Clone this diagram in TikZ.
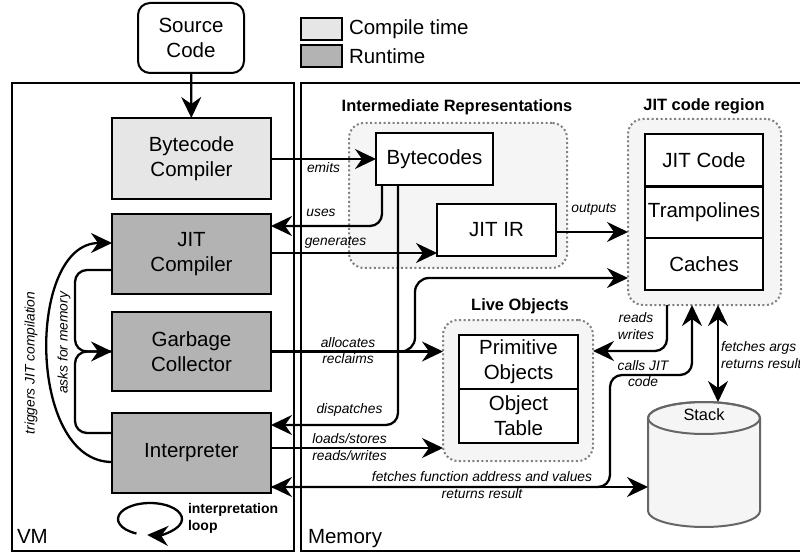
\documentclass[tikz,border=0pt]{standalone}
\usepackage{fontspec}
\setmainfont{Liberation Sans}
\usetikzlibrary{arrows.meta}
\definecolor{lightfill}{HTML}{E6E6E6}
\definecolor{darkfill}{HTML}{B3B3B3}
\definecolor{groupfill}{HTML}{F5F5F5}
\definecolor{dotgray}{HTML}{808080}
\definecolor{stackgray}{HTML}{666666}
\begin{document}
\begin{tikzpicture}[x=1pt,y=-1pt,
  every node/.style={inner sep=0pt, outer sep=0pt},
  boxfont/.style={font=\fontsize{20.5}{25}\selectfont},
  vbox/.style={draw, line width=2pt, align=center, boxfont},
  group/.style={draw=dotgray, fill=groupfill, line width=2pt, dash pattern=on 2pt off 2.5pt, rounded corners=15pt},
  gtitle/.style={font=\fontsize{16.4}{19}\selectfont\bfseries},
  elabel/.style={font=\fontsize{13.8}{16.5}\selectfont\itshape, align=center},
  frm/.style={draw, line width=2pt},
  tip/.tip={Stealth[length=21pt, width=20pt, inset=7pt]},
  arr/.style={line width=2.3pt, -tip},
  darr/.style={line width=2.3pt, tip-tip},
  ln/.style={line width=2.3pt},
]
\useasboundingbox (0,0) rectangle (800,553);

% frames
\node[frm, minimum width=282pt, minimum height=468pt] (vm) at (153,317) {};
\node[frm, minimum width=509pt, minimum height=468pt] (mem) at (555.5,317) {};
\node[anchor=base west, boxfont] (vmlbl) at (17,543) {VM};
\node[anchor=base west, boxfont] (memlbl) at (308,543) {Memory};

% legend
\node[draw, line width=2pt, fill=lightfill, minimum width=41pt, minimum height=22pt] (legc) at (321.5,29) {};
\node[draw, line width=2pt, fill=darkfill, minimum width=41pt, minimum height=22pt] (legr) at (321.5,56) {};
\node[anchor=west, boxfont] (legct) at (349,29) {Compile time};
\node[anchor=west, boxfont] (legrt) at (349,56) {Runtime};

% groups
\node[group, minimum width=218pt, minimum height=145pt] (irg) at (458,195.5) {};
\node[group, minimum width=153pt, minimum height=186pt] (jitreg) at (704.5,212) {};
\node[group, minimum width=150pt, minimum height=141pt] (live) at (518,390.5) {};
\node[gtitle] (irgt) at (457,107) {Intermediate Representations};
\node[gtitle] (jitregt) at (704,106) {JIT code region};
\node[gtitle] (livet) at (520,306) {Live Objects};

% stack placeholder
\node[minimum width=112pt, minimum height=125pt] (stack) at (704,464.5) {};

% waypoints
\coordinate (usesx) at (382,226);
\coordinate (dispx) at (398,425);
\coordinate (geny) at (0,253);
\coordinate (outy) at (0,232);
\coordinate (gcup) at (415,278);
\coordinate (lsy) at (0,448);
\coordinate (fy) at (0,487);
\coordinate (callx) at (610,375);
\coordinate (cally) at (692,375);
\coordinate (rwx) at (667,351);
\coordinate (faxx) at (718,0);
\coordinate (askx) at (75,351.5);
\coordinate (loopc) at (150,519);

% boxes
\node[vbox, fill=white, rounded corners=12pt, minimum width=106pt, minimum height=70pt] (src) at (191,38) {Source\\Code};
\node[vbox, fill=lightfill, minimum width=159pt, minimum height=81pt] (bcc) at (191.5,158.5) {Bytecode\\Compiler};
\node[vbox, fill=darkfill, minimum width=159pt, minimum height=80pt] (jitc) at (191.5,254) {JIT\\Compiler};
\node[vbox, fill=darkfill, minimum width=159pt, minimum height=79pt] (gc) at (191.5,351.5) {Garbage\\Collector};
\node[vbox, fill=darkfill, minimum width=159pt, minimum height=80pt] (interp) at (191.5,453) {Interpreter};

\node[vbox, fill=white, minimum width=117pt, minimum height=52pt] (bc) at (434.5,159) {Bytecodes};
\node[vbox, fill=white, minimum width=119pt, minimum height=52pt] (jitir) at (496.5,230) {JIT IR};

\node[vbox, fill=white, minimum width=118pt, minimum height=52pt] (jitcode) at (704,160.5) {JIT Code};
\node[vbox, fill=white, minimum width=118pt, minimum height=51pt] (tramp) at (704,212.5) {Trampolines};
\node[vbox, fill=white, minimum width=118pt, minimum height=52pt] (caches) at (704,264) {Caches};

\node[vbox, fill=white, minimum width=119pt, minimum height=54pt] (prim) at (518.5,362) {Primitive\\Objects};
\node[vbox, fill=white, minimum width=119pt, minimum height=54pt] (objtab) at (518.5,416) {Object\\Table};

% stack cylinder
\filldraw[fill=groupfill, draw=stackgray, line width=2pt]
  (648,418) -- (648,511) arc[start angle=180, end angle=360, x radius=56pt, y radius=16pt]
  -- (760,418) arc[start angle=0, end angle=180, x radius=56pt, y radius=16pt] -- cycle;
\draw[draw=stackgray, line width=2pt] (704,418) ellipse[x radius=56pt, y radius=16pt];
\node[font=\fontsize{16.4}{19}\selectfont] (stacklbl) at (704,415) {Stack};

% connectors
\draw[arr] (src) -- (bcc);
\draw[arr] (bcc.east |- bc.west) -- (bc.west);
\draw[arr, rounded corners=12pt] (bc.south -| usesx) -- (usesx) -- (jitc.east |- usesx);
\draw[arr] (jitc.east |- geny) -- (jitir.west |- geny);
\draw[arr] (jitir.east |- outy) -- (jitreg.west |- outy);
\draw[arr, rounded corners=12pt] (bc.south -| dispx) -- (dispx) -- (interp.east |- dispx);
\draw[arr, rounded corners=14pt] (gc.east) -| (gcup) -- (jitreg.west |- gcup);
\draw[arr] (gc.east) -- (live.west |- gc.east);
\draw[arr] (interp.east |- lsy) -- (live.west |- lsy);
\draw[darr] (interp.east |- fy) -- (stack.west |- fy);
\draw[arr, rounded corners=12pt] (interp.east |- fy) -| (callx) -- (cally) -- (jitreg.south -| cally);
\draw[arr, rounded corners=12pt] (jitreg.south -| rwx) -- (rwx) -- (live.east |- rwx);
\draw[darr] (jitreg.south -| faxx) -- (stack.north -| faxx);

% VM internal connectors
\draw[arr] ([yshift=-9pt]interp.west) to[out=180,in=180,looseness=1] ([yshift=11pt]jitc.west);
\draw[arr, rounded corners=12pt] ([yshift=-16pt]jitc.west) -| (askx) -- (gc.west);
\draw[ln, rounded corners=12pt] ([yshift=20pt]interp.west) -| (askx) -- (gc.west);
\draw[arr] (loopc) ++(245:32pt and 16pt) arc[start angle=245, end angle=-95, x radius=32pt, y radius=16pt];

% labels
\node[elabel] (l1) at (323.5,168) {emits};
\node[elabel] (l2) at (321,213) {uses};
\node[elabel] (l3) at (335.5,242) {generates};
\node[elabel] (l4) at (594,209) {outputs};
\node[elabel] (l5) at (348,350.5) {allocates\\reclaims};
\node[elabel] (l6) at (349.5,410) {dispatches};
\node[elabel] (l7) at (349.5,447) {loads/stores\\reads/writes};
\node[elabel] (l8) at (482,485) {fetches function address and values\\returns result};
\node[elabel] (l9) at (636,326) {reads\\writes};
\node[elabel] (l10) at (643,373.5) {calls JIT\\code};
\node[elabel, align=left, anchor=west] (l11) at (721,355) {fetches args\\returns result};
\node[elabel, rotate=90] (l12) at (31,363) {triggers JIT compilation};
\node[elabel, rotate=90] (l13) at (64,343) {asks for memory};
\node[font=\fontsize{14}{17}\selectfont\bfseries, align=left, anchor=west] (l14) at (188,518.5) {interpretation\\loop};
\end{tikzpicture}
\end{document}
